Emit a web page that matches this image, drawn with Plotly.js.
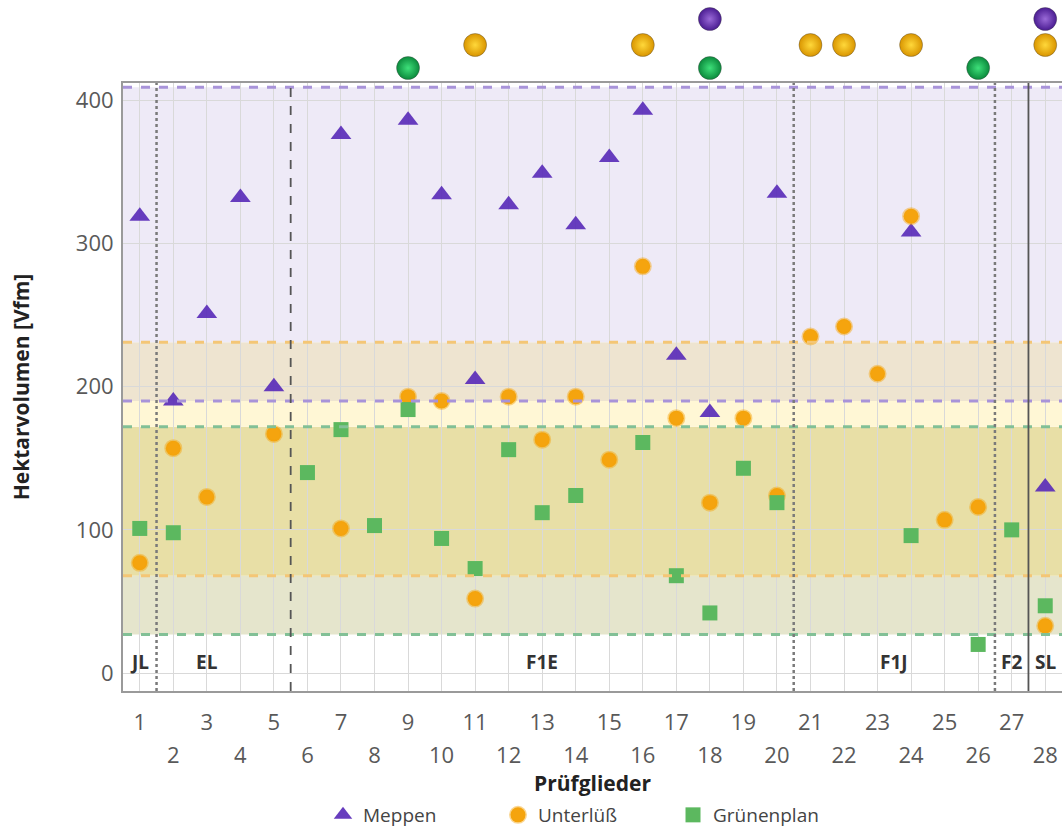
<!DOCTYPE html>
<html><head><meta charset="utf-8">
<script src="https://cdn.plot.ly/plotly-3.0.1.min.js"></script>
<style>html,body{margin:0;padding:0;background:#fff}</style>
</head><body><div id="chart" style="width:1062px;height:829px"></div>
<script>
// ---- data ----
const pruefglieder = [1,2,3,4,5,6,7,8,9,10,11,12,13,14,15,16,17,18,19,20,21,22,23,24,25,26,27,28];
const meppenX = [1,2,3,4,5,7,9,10,11,12,13,14,15,16,17,18,20,24,28];
const meppen  = [319,190,251,332,200,376,386,334,205,327,349,313,360,393,222,182,335,308,130];
const unterluessX = [1,2,3,5,7,9,10,11,12,13,14,15,16,17,18,19,20,21,22,23,24,25,26,28];
const unterluess  = [77,157,123,167,101,193,190,52,193,163,193,149,284,178,119,178,124,235,242,209,319,107,116,33];
const gruenenplanX = [1,2,6,7,8,9,10,11,12,13,14,16,17,18,19,20,24,26,27,28];
const gruenenplan  = [101,98,140,170,103,184,94,73,156,112,124,161,68,42,143,119,96,20,100,47];
// best-of markers above the plot
const bestMeppen = [18,28];
const bestUnterluess = [11,16,21,22,24,28];
const bestGruenenplan = [9,18,26];
// range bands per site
const bandSites = ['Meppen','Unterlüß','Grünenplan'];
const bandLow  = [190, 68, 27];
const bandHigh = [409, 231, 172];
// groups
const groupLabels = ['JL','EL','F1E','F1J','F2','SL'];
const groupCenters = [1,3,13,23.5,27,28];
const separators = [1.5,5.5,20.5,26.5,27.5];

// ---- styles ----
const FONT = 'Open Sans, sans-serif';
const sepStyles = [
  {dash:'dot', color:'#7a7a7a', width:2.5},
  {dash:'dash', color:'#555', width:1.8},
  {dash:'dot', color:'#7a7a7a', width:2.5},
  {dash:'dot', color:'#7a7a7a', width:2.5},
  {dash:'solid', color:'#555', width:1.8}
];
const bandLineColors = ['#a893d9','#f4c676','#82c096'];
const comboColors = {'0':'#eeeaf7','01':'#eee4d0','1':'#fff7d5','12':'#e8dfa6','2':'#e5e5cc','02':'#e7e0c8','012':'#e4dca8'};

const shapes = [];
const bps = Array.from(new Set(bandLow.concat(bandHigh))).sort((a,b)=>a-b);
for (let i=0;i<bps.length-1;i++){
  const lo=bps[i], hi=bps[i+1], mid=(lo+hi)/2;
  let key='';
  bandLow.forEach((l,k)=>{ if(mid>l && mid<bandHigh[k]) key+=k; });
  if(!key) continue;
  shapes.push({type:'rect',xref:'x domain',yref:'y',x0:0,x1:1,y0:lo,y1:hi,
    fillcolor:comboColors[key]||'#eee',line:{width:0},layer:'below'});
}
bandLow.forEach((l,k)=>{
  [l,bandHigh[k]].forEach(v=>shapes.push({type:'line',xref:'x domain',yref:'y',x0:0,x1:1,y0:v,y1:v,
    line:{color:bandLineColors[k],width:3,dash:'dash'},layer:'above'}));
});
separators.forEach((s,i)=>shapes.push({type:'line',xref:'x',yref:'y domain',x0:s,x1:s,y0:0,y1:1,
  line:sepStyles[i],layer:'above'}));

const annotations = groupLabels.map((t,i)=>({x:groupCenters[i],y:8,xref:'x',yref:'y',text:t,
  showarrow:false,font:{family:FONT,size:19,color:'#333',weight:'bold'}}));

// rows of the "best" balls in the strip above the plot (yaxis2 units = px from strip bottom)
const ballRows = {g:15, u:38, m:64};
function balls(xs,level,edge,light){
  return {type:'scatter',mode:'markers',x:xs,y:xs.map(()=>level),xaxis:'x3',yaxis:'y2',
    cliponaxis:false,showlegend:false,hoverinfo:'skip',
    marker:{size:23,color:edge,gradient:{type:'radial',color:light},line:{width:1,color:'rgba(60,60,60,0.35)'}}};
}

const traces = [
  {type:'scatter',mode:'markers',name:'Meppen',x:meppenX,y:meppen,
   marker:{symbol:'triangle-up',size:18,color:'#5a2db8',opacity:0.92}},
  {type:'scatter',mode:'markers',name:'Unterlüß',x:unterluessX,y:unterluess,
   marker:{symbol:'circle',size:15,color:'#f5a40e',line:{width:3,color:'rgba(245,164,14,0.45)'}}},
  {type:'scatter',mode:'markers',name:'Grünenplan',x:gruenenplanX,y:gruenenplan,
   marker:{symbol:'square',size:15,color:'#5cb85f'}},
  balls(bestGruenenplan,ballRows.g,'#0b8a3c','#3ee07a'),
  balls(bestUnterluess,ballRows.u,'#d99500','#ffd83a'),
  balls(bestMeppen,ballRows.m,'#4a1c92','#9a6ad8'),
  {type:'scatter',mode:'markers',x:[1],y:[-1000],xaxis:'x2',yaxis:'y',showlegend:false,hoverinfo:'skip',
   marker:{size:1,color:'rgba(0,0,0,0)'}}
];

const odd = pruefglieder.filter(v=>v%2===1), even = pruefglieder.filter(v=>v%2===0);
const tickFont = {family:FONT,size:22,color:'#595959'};
const PH = 691; // plot+strip height in px
const layout = {
  width:1062,height:829,
  margin:{l:123,r:0,t:0,b:138,autoexpand:false},
  paper_bgcolor:'#fff',plot_bgcolor:'#fff',
  showlegend:true,
  legend:{orientation:'h',x:0.213,xanchor:'left',y:(PH-815)/PH,yanchor:'middle',entrywidth:130,
    font:{family:FONT,size:19,color:'#444'}},
  xaxis:{range:[0.5,28.5],tickmode:'array',tickvals:odd,ticktext:odd.map(String),
    ticks:'outside',ticklen:11,tickcolor:'rgba(0,0,0,0)',tickfont:tickFont,
    showgrid:true,gridcolor:'#d9d9d9',gridwidth:1,zeroline:false,
    showline:true,linecolor:'#9a9a9a',linewidth:2,mirror:true,anchor:'y'},
  xaxis2:{range:[0.5,28.5],overlaying:'x',anchor:'y',side:'bottom',tickmode:'array',tickvals:even,ticktext:even.map(String),
    ticks:'outside',ticklen:45,tickcolor:'rgba(0,0,0,0)',tickfont:tickFont,
    showgrid:true,gridcolor:'#d9d9d9',gridwidth:1,zeroline:false,showline:false,
    title:{text:'Prüfglieder',font:{family:FONT,size:21,color:'#222',weight:'bold'},standoff:7}},
  xaxis3:{range:[0.5,28.5],anchor:'y2',showgrid:false,zeroline:false,showline:false,showticklabels:false,ticks:''},
  yaxis:{domain:[0,(PH-83)/PH],range:[-12.5,412],tickvals:[0,100,200,300,400],ticks:'outside',ticklen:3,tickcolor:'rgba(0,0,0,0)',
    tickfont:tickFont,showgrid:true,gridcolor:'#d9d9d9',gridwidth:1,zeroline:false,
    showline:true,linecolor:'#9a9a9a',linewidth:2,mirror:true,
    title:{text:'Hektarvolumen [Vfm]',font:{family:FONT,size:21,color:'#222',weight:'bold'},standoff:40}},
  yaxis2:{domain:[(PH-83)/PH,1],range:[0,83],anchor:'x3',showgrid:false,zeroline:false,showline:false,
    showticklabels:false,ticks:''},
  shapes:shapes,
  annotations:annotations
};
Plotly.newPlot('chart',traces,layout,{displayModeBar:false,staticPlot:true});
</script></body></html>
